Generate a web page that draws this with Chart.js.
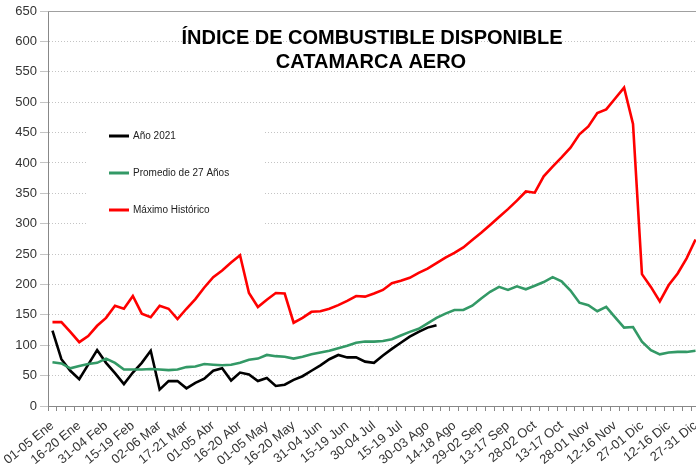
<!DOCTYPE html>
<html>
<head>
<meta charset="utf-8">
<script src="https://cdn.jsdelivr.net/npm/chart.js@4"></script>
<style>
  html, body { margin: 0; padding: 0; background: #fff; overflow: hidden; }
  #wrap { position: relative; width: 700px; height: 469px; }
</style>
</head>
<body>
<div id="wrap"><canvas id="chart"></canvas></div>
<script>
// Indice de combustible disponible - Catamarca Aero (pentadas)

const TICK_LABELS = [
  '01-05 Ene', '16-20 Ene', '31-04 Feb', '15-19 Feb', '02-06 Mar', '17-21 Mar',
  '01-05 Abr', '16-20 Abr', '01-05 May', '16-20 May', '31-04 Jun', '15-19 Jun',
  '30-04 Jul', '15-19 Jul', '30-03 Ago', '14-18 Ago', '29-02 Sep', '13-17 Sep',
  '28-02 Oct', '13-17 Oct', '28-01 Nov', '12-16 Nov', '27-01 Dic', '12-16 Dic',
  '27-31 Dic'
];

// 73 pentadas, una etiqueta cada 3
const PENTADAS = Array.from({ length: 73 }, (_, i) => i);

const ANIO_2021 = [
  124, 77, 58, 44, 68, 92, 71, 54, 36, 55, 71, 91, 27, 41, 41, 29, 38, 45,
  58, 62, 42, 55, 52, 41, 46, 33, 35, 43, 49, 58, 67, 77, 84, 80, 80, 73,
  71, 83, 94, 104, 114, 122, 129, 133
];

const PROMEDIO_27 = [
  72, 70, 62, 66, 69, 71, 78, 71, 60, 60, 60, 61, 60, 59, 60, 64, 65, 69,
  68, 67, 68, 71, 76, 78, 84, 82, 81, 78, 81, 85, 88, 91, 95, 99, 104, 106,
  106, 107, 110, 116, 122, 127, 136, 145, 152, 158, 158, 165, 177, 188, 196, 191,
  197, 192, 198, 204, 212, 205, 190, 170, 166, 156, 163, 146, 129, 130, 106, 92,
  85, 88, 89, 89, 91
];

const MAXIMO_HIST = [
  138, 138, 122, 105, 115, 132, 145, 165, 160, 181, 152, 146, 165, 160, 143, 160, 176, 195,
  212, 223, 236, 248, 186, 163, 175, 186, 185, 137, 145, 155, 156, 160, 166, 173, 181, 180,
  185, 191, 202, 206, 211, 219, 226, 235, 244, 252, 261, 273, 285, 298, 311, 324, 338, 353,
  351, 378, 394, 409, 425, 447, 460, 482, 488, 506, 524, 464, 217, 196, 172, 199, 218, 243,
  274
];

const SERIES_NAMES = ['Año 2021', 'Promedio de 27 Años', 'Máximo Histórico'];
const SERIES_COLORS = ['#000000', '#339966', '#ff0000'];
const TITLE_LINES = ['ÍNDICE DE COMBUSTIBLE DISPONIBLE', 'CATAMARCA AERO'];

const FONT = "'Liberation Sans', Arial, sans-serif";
Chart.defaults.font.family = FONT;
Chart.defaults.color = '#333';

// Titulo y leyenda dibujados dentro del area del grafico
const overlayPlugin = {
  id: 'overlay',
  beforeDatasetsDraw(chart) {
    const ctx = chart.ctx;
    ctx.save();
    ctx.fillStyle = '#ffffff';
    ctx.fillRect(86, 108, 177, 128);
    ctx.restore();
  },
  afterDraw(chart) {
    const ctx = chart.ctx;
    const area = chart.chartArea;
    ctx.save();

    // borde superior
    ctx.strokeStyle = '#a0a0a0';
    ctx.lineWidth = 1;
    ctx.beginPath();
    ctx.moveTo(area.left, Math.round(area.top) + 0.5);
    ctx.lineTo(area.right, Math.round(area.top) + 0.5);
    ctx.stroke();

    // titulo
    ctx.fillStyle = '#000';
    ctx.font = 'bold 20px ' + FONT;
    ctx.textAlign = 'center';
    ctx.textBaseline = 'alphabetic';
    ctx.fillText(TITLE_LINES[0], 372, 44);
    ctx.fillText(TITLE_LINES[1], 371, 68);

    // leyenda
    const ys = [136, 173, 210];
    ctx.font = '10px ' + FONT;
    ctx.textAlign = 'left';
    ctx.textBaseline = 'middle';
    SERIES_NAMES.forEach((name, i) => {
      ctx.strokeStyle = SERIES_COLORS[i];
      ctx.lineWidth = 3;
      ctx.beginPath();
      ctx.moveTo(109, ys[i]);
      ctx.lineTo(129, ys[i]);
      ctx.stroke();
      ctx.fillStyle = '#222';
      ctx.fillText(name, 133, ys[i]);
    });
    ctx.restore();
  }
};

function lineDataset(label, data, color) {
  return {
    label: label,
    data: data,
    borderColor: color,
    backgroundColor: color,
    borderWidth: 2.6,
    pointRadius: 0,
    tension: 0,
    fill: false,
  };
}

new Chart(document.getElementById('chart'), {
  type: 'line',
  data: {
    labels: PENTADAS,
    datasets: [
      lineDataset(SERIES_NAMES[2], MAXIMO_HIST, SERIES_COLORS[2]),
      lineDataset(SERIES_NAMES[1], PROMEDIO_27, SERIES_COLORS[1]),
      lineDataset(SERIES_NAMES[0], ANIO_2021, SERIES_COLORS[0]),
    ]
  },
  options: {
    responsive: true,
    maintainAspectRatio: false,
    animation: false,
    layout: { padding: { top: 11, right: 0, left: 0, bottom: 0 } },
    plugins: {
      legend: { display: false },
      title: { display: false },
      tooltip: { enabled: false }
    },
    scales: {
      x: {
        type: 'category',
        offset: true,
        grid: {
          display: true,
          offset: true,
          drawOnChartArea: false,
          drawTicks: true,
          tickLength: 5,
          color: '#888'
        },
        border: { display: true, color: '#888', width: 1 },
        ticks: {
          autoSkip: false,
          minRotation: 39,
          maxRotation: 39,
          padding: 7,
          font: { size: 13 },
          color: '#333',
          callback: (val, i) => (i % 3 === 0 ? TICK_LABELS[i / 3] : '')
        },
        afterFit: (scale) => {
          scale.height = 63;
          scale.paddingLeft = 0;
          scale.paddingRight = 0;
        }
      },
      y: {
        min: 0,
        max: 650,
        ticks: {
          stepSize: 50,
          padding: 3,
          font: { size: 13 },
          color: '#333'
        },
        grid: {
          color: '#c4c4c4',
          lineWidth: 1,
          tickLength: 8,
          drawTicks: true
        },
        border: { display: true, color: '#888', width: 1, dash: [1, 2] },
        afterFit: (scale) => {
          scale.width = 48;
          scale.paddingTop = 0;
          scale.paddingBottom = 0;
        }
      }
    }
  },
  plugins: [overlayPlugin]
});
</script>
</body>
</html>
